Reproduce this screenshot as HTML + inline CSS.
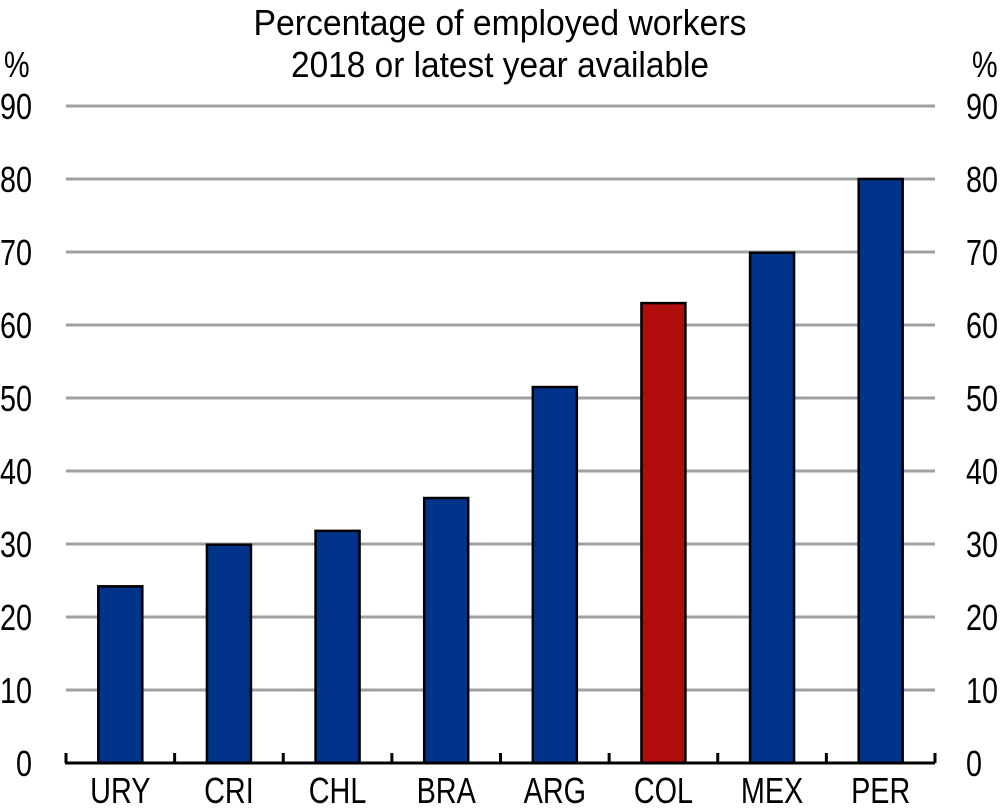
<!DOCTYPE html>
<html><head><meta charset="utf-8"><style>
html,body{margin:0;padding:0;background:#fff}
svg text{font-family:"Liberation Sans",sans-serif;fill:#000}
</style></head><body>
<svg id="chart" width="1000" height="806" xmlns="http://www.w3.org/2000/svg">
<text x="500" y="35" font-size="36" text-anchor="middle" textLength="493" lengthAdjust="spacingAndGlyphs">Percentage of employed workers</text>
<text x="500" y="77" font-size="36" text-anchor="middle" textLength="418" lengthAdjust="spacingAndGlyphs">2018 or latest year available</text>
<text class="nar" x="4" y="77" font-size="36">%</text>
<text class="nar" x="972" y="77" font-size="36">%</text>
<g id="grid"></g><g id="bars"></g><g id="axis"></g>
</svg>
<script>
const categories=["URY","CRI","CHL","BRA","ARG","COL","MEX","PER"];
const values=[24.2,29.9,31.8,36.3,51.5,63.0,69.9,80.0];
const highlight=["COL"];
const yTicks=[0,10,20,30,40,50,60,70,80,90];
const NS="http://www.w3.org/2000/svg";
const x0=66,x1=935,yBase=763,yTop=106,yMax=90;
const band=(x1-x0)/categories.length;
function y(v){return yBase-(yBase-yTop)*v/yMax;}
function xc(i){return x0+band*(i+0.5);}
function mk(tag,attrs,parent){const e=document.createElementNS(NS,tag);for(const k in attrs)e.setAttribute(k,attrs[k]);document.getElementById(parent).appendChild(e);return e;}
yTicks.forEach(t=>{
 if(t>0){const l=mk('line',{x1:x0,x2:x1,y1:y(t),y2:y(t),stroke:'#a0a0a0','stroke-width':3},'grid');
 
 }
 const a=mk('text',{x:32,y:y(t)+13,'font-size':36,'text-anchor':'end',class:'nar'},'grid');a.textContent=t;
 
 
 const b=mk('text',{x:966,y:y(t)+13,'font-size':36,'text-anchor':'start',class:'nar'},'grid');b.textContent=t;
 
 
});
const bw=44;
categories.forEach((c,i)=>{
 const r=mk('rect',{x:xc(i)-bw/2,y:y(values[i]),width:bw,height:yBase-y(values[i]),fill:highlight.includes(c)?'#b00c0c':'#00338a',stroke:'#000','stroke-width':2.5},'bars');
 
 
 const t=mk('text',{x:xc(i),y:803,'font-size':36,'text-anchor':'middle',class:'nar'},'axis');t.textContent=c;
 
 
});
const ax=mk('line',{x1:x0-1,x2:x1,y1:yBase,y2:yBase,stroke:'#000','stroke-width':3},'axis');


for(let i=0;i<=categories.length;i++){
 const tk=mk('line',{x1:x0+band*i,x2:x0+band*i,y1:yBase,y2:yBase-10,stroke:'#000','stroke-width':3},'axis');
 
 
}
document.querySelectorAll('text.nar').forEach(t=>{
 const w=t.getComputedTextLength();
 t.setAttribute('textLength',(w*0.8).toFixed(1));
 t.setAttribute('lengthAdjust','spacingAndGlyphs');
});
</script>
</body></html>
